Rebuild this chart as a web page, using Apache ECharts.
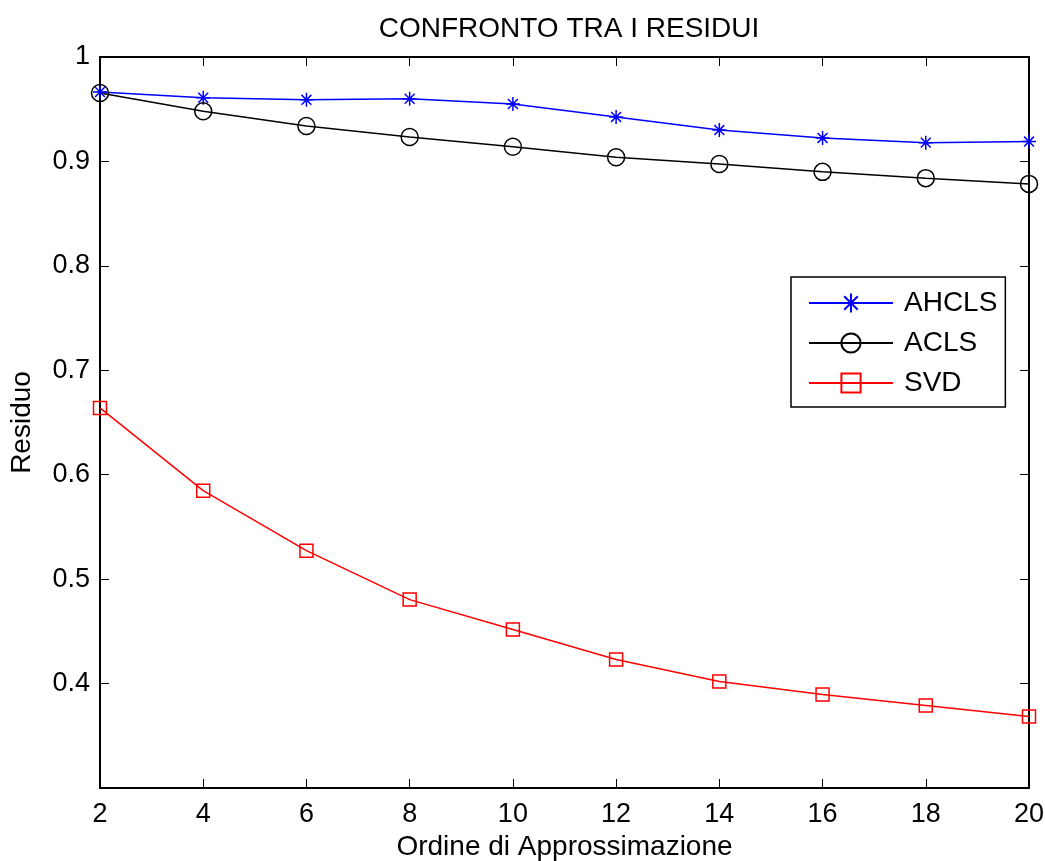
<!DOCTYPE html>
<html>
<head>
<meta charset="utf-8">
<script src="https://cdn.jsdelivr.net/npm/echarts@6/dist/echarts.min.js"></script>
<style>html,body{margin:0;padding:0;background:#fff}#c{width:1045px;height:861px}</style>
</head>
<body>
<div id="c"></div>
<script>
const orders = [2, 4, 6, 8, 10, 12, 14, 16, 18, 20];
const ahcls = [0.9665, 0.961, 0.959, 0.960, 0.955, 0.9426, 0.930, 0.9225, 0.918, 0.919];
const acls = [0.9655, 0.948, 0.934, 0.9234, 0.914, 0.904, 0.8976, 0.890, 0.884, 0.8785];
const svd = [0.664, 0.5847, 0.5273, 0.4804, 0.4517, 0.423, 0.402, 0.3895, 0.379, 0.3684];
const seriesNames = ['AHCLS', 'ACLS', 'SVD'];
const yTickLabels = ['', '0.4', '0.5', '0.6', '0.7', '0.8', '0.9', '1'];

const FONT = 'Liberation Sans, Arial, sans-serif';
const asterisk = 'path://M0,-10L0,10M-10,0L10,0M-7.07,-7.07L7.07,7.07M-7.07,7.07L7.07,-7.07';
function pairs(ys) { return orders.map((x, i) => [x, ys[i]]); }

const chart = echarts.init(document.getElementById('c'), null, {renderer: 'canvas'});
const axisCommon = {
  axisLine: {show: true, lineStyle: {color: '#000', width: 2}},
  axisTick: {show: true, inside: true, length: 9, lineStyle: {color: '#000', width: 1}},
  splitLine: {show: false}
};
chart.setOption({
  animation: false,
  backgroundColor: '#fff',
  title: {
    text: 'CONFRONTO TRA I RESIDUI', left: 564, top: 10, textAlign: 'center',
    textStyle: {fontFamily: FONT, fontSize: 28, fontWeight: 'normal', color: '#000'}
  },
  grid: {left: 100, right: 16, top: 57, bottom: 73, containLabel: false, outerBoundsMode: 'none'},
  legend: {
    data: seriesNames, orient: 'vertical', left: 791, top: 277,
    width: 216, padding: [12, 8, 10, 17], itemGap: 12,
    itemWidth: 84, itemHeight: 24,
    borderColor: '#000', borderWidth: 1.5, backgroundColor: '#fff',
    textStyle: {fontFamily: FONT, fontSize: 28, color: '#000', padding: [0, 0, 0, 6]}
  },
  xAxis: [Object.assign({
    type: 'value', min: 2, max: 20, interval: 2, position: 'bottom',
    name: 'Ordine di Approssimazione', nameLocation: 'middle', nameGap: 42,
    nameTextStyle: {fontFamily: FONT, fontSize: 28, color: '#000'},
    axisLabel: {fontFamily: FONT, fontSize: 27, color: '#000', margin: 13}
  }, axisCommon), Object.assign({
    type: 'value', min: 2, max: 20, interval: 2, position: 'top',
    axisLabel: {show: false}
  }, axisCommon)],
  yAxis: [Object.assign({
    type: 'value', min: 0.3, max: 1, interval: 0.1, position: 'left',
    name: 'Residuo', nameLocation: 'middle', nameGap: 64, nameRotate: 90,
    nameTextStyle: {fontFamily: FONT, fontSize: 28, color: '#000'},
    axisLabel: {fontFamily: FONT, fontSize: 27, color: '#000', margin: 10,
      formatter: (v) => yTickLabels[Math.round((v - 0.3) * 10)] || ''}
  }, axisCommon), Object.assign({
    type: 'value', min: 0.3, max: 1, interval: 0.1, position: 'right',
    axisLabel: {show: false}
  }, axisCommon)],
  series: [
    {
      name: seriesNames[0], type: 'line', data: pairs(ahcls),
      symbol: asterisk, symbolSize: 14, showAllSymbol: true,
      lineStyle: {color: '#0000ff', width: 1.5},
      itemStyle: {color: '#0000ff', borderColor: '#0000ff', borderWidth: 1.5}
    },
    {
      name: seriesNames[1], type: 'line', data: pairs(acls),
      symbol: 'circle', symbolSize: 17, showAllSymbol: true,
      lineStyle: {color: '#000', width: 1.5},
      itemStyle: {color: 'rgba(0,0,0,0)', borderColor: '#000', borderWidth: 1.5}
    },
    {
      name: seriesNames[2], type: 'line', data: pairs(svd),
      symbol: 'rect', symbolSize: 13, showAllSymbol: true,
      lineStyle: {color: '#ff0000', width: 1.5},
      itemStyle: {color: 'rgba(0,0,0,0)', borderColor: '#ff0000', borderWidth: 1.5}
    }
  ]
});
</script>
</body>
</html>
